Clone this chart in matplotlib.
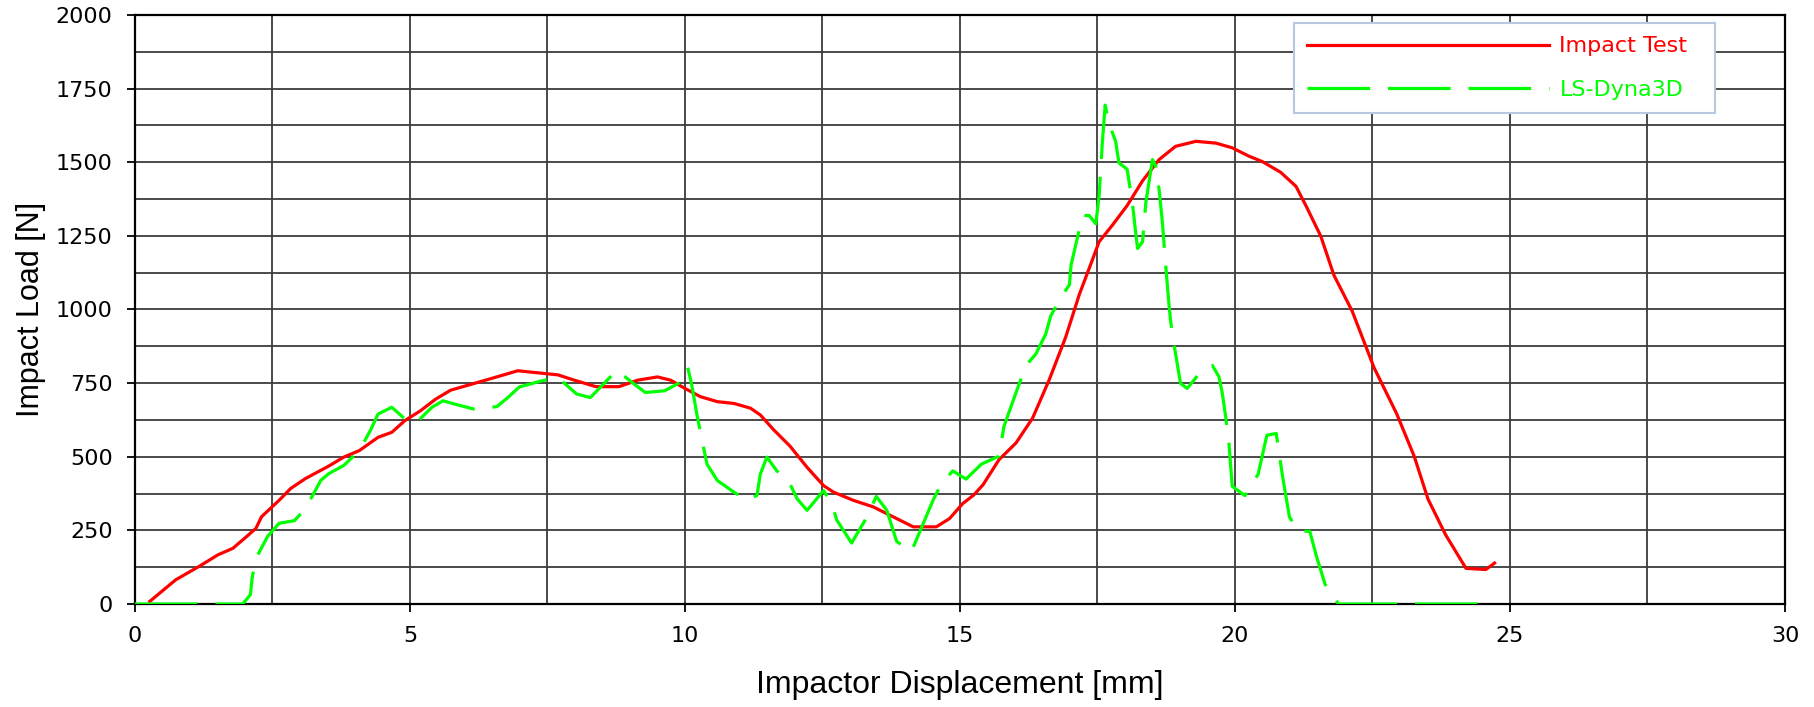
import matplotlib
matplotlib.use("Agg")
import matplotlib.pyplot as plt
from matplotlib.ticker import MultipleLocator

plt.rcParams['font.family'] = ['Liberation Sans', 'DejaVu Sans']

# Impact test (measured)
test_x = [0.27, 0.74, 1.16, 1.51, 1.78, 2.03, 2.2, 2.3, 2.62, 2.83, 3.1, 3.52, 3.8,
          4.08, 4.42, 4.67, 4.91, 5.19, 5.47, 5.74, 6.02, 6.3, 6.65, 6.96, 7.27, 7.69,
          7.97, 8.38, 8.8, 9.14, 9.5, 9.74, 9.98, 10.28, 10.59, 10.89, 11.19, 11.37,
          11.61, 11.91, 12.22, 12.52, 12.7, 13.06, 13.42, 13.72, 14.15, 14.57, 14.81,
          15.05, 15.25, 15.42, 15.71, 16.02, 16.32, 16.62, 16.92, 17.17, 17.35, 17.53,
          17.77, 18.04, 18.32, 18.62, 18.92, 19.29, 19.65, 19.95, 20.25, 20.5, 20.83,
          21.11, 21.31, 21.56, 21.8, 22.13, 22.53, 22.94, 23.26, 23.51, 23.83, 24.2,
          24.56, 24.72]
test_y = [9, 82, 127, 167, 189, 229, 257, 296, 352, 392, 426, 468, 499,
          521, 566, 583, 623, 656, 696, 726, 741, 756, 775, 792, 786, 778,
          761, 738, 738, 760, 771, 760, 734, 704, 687, 681, 665, 642,
          592, 536, 464, 402, 380, 352, 330, 302, 262, 262, 290,
          341, 370, 405, 490, 547, 631, 760, 905, 1051, 1140, 1230,
          1286, 1353, 1437, 1509, 1554, 1571, 1565, 1549, 1521, 1502, 1466,
          1418, 1345, 1249, 1116, 995, 802, 646, 501, 356, 235, 121,
          117, 139]

# LS-Dyna3D simulation
sim_x = [0.0, 1.06, 1.96, 2.1, 2.13, 2.2, 2.41, 2.62, 2.9, 3.1, 3.38, 3.52, 3.8, 4.08,
         4.28, 4.42, 4.67, 4.91, 5.12, 5.4, 5.6, 5.85, 6.16, 6.58, 6.78, 6.99, 7.4,
         7.69, 8.03, 8.28, 8.52, 8.76, 9.04, 9.28, 9.63, 9.91, 10.05, 10.12, 10.22,
         10.4, 10.59, 10.89, 11.13, 11.31, 11.37, 11.49, 11.67, 11.88, 12.04, 12.22,
         12.52, 12.67, 12.76, 13.03, 13.27, 13.48, 13.67, 13.85, 14.12, 14.51, 14.66,
         14.87, 15.11, 15.39, 15.71, 15.8, 15.96, 16.08, 16.2, 16.38, 16.56, 16.65,
         16.83, 16.99, 17.02, 17.11, 17.23, 17.35, 17.47, 17.53, 17.59, 17.64, 17.71,
         17.83, 17.89, 18.04, 18.14, 18.2, 18.23, 18.32, 18.38, 18.5, 18.56, 18.62,
         18.68, 18.71, 18.74, 18.8, 18.83, 18.89, 19.01, 19.13, 19.35, 19.59, 19.71,
         19.77, 19.83, 19.89, 19.95, 20.18, 20.42, 20.58, 20.75, 20.87, 20.99, 21.15,
         21.36, 21.48, 21.64, 21.88, 24.72]
sim_y = [0, 0, 0, 32, 88, 155, 229, 274, 283, 324, 420, 442, 471, 521,
         589, 645, 668, 628, 617, 668, 690, 677, 662, 670, 701, 737, 758,
         769, 713, 701, 747, 794, 752, 718, 724, 752, 803, 747, 640,
         475, 419, 380, 352, 369, 441, 499, 452, 419, 357, 318,
         385, 341, 285, 207, 283, 365, 318, 212, 179, 352, 408,
         452, 424, 475, 502, 603, 687, 749, 810, 849, 917, 978,
         1039, 1084, 1151, 1224, 1319, 1319, 1291, 1386, 1571, 1694, 1632,
         1571, 1498, 1476, 1353, 1252, 1207, 1230, 1364, 1509, 1487, 1408,
         1297, 1224, 1151, 1017, 961, 883, 749, 732, 782, 810, 771,
         715, 637, 547, 400, 368, 440, 573, 579, 428, 296, 247,
         247, 163, 66, 0, 0]

fig = plt.figure(figsize=(18.14, 7.07), dpi=100)
ax = fig.add_axes([0.0744, 0.1457, 0.9096, 0.8331])

# trailing spaces give the legend box the wider right margin of the original
ax.plot(test_x, test_y, color='#ff0000', lw=2.3, label='Impact Test  ', zorder=3)
ax.plot(sim_x, sim_y, color='#00ff00', lw=2.3, dashes=(19.6, 5.6),
        label='LS-Dyna3D', zorder=3)

ax.set_xlim(0, 30)
ax.set_ylim(0, 2000)
ax.xaxis.set_major_locator(MultipleLocator(5))
ax.xaxis.set_minor_locator(MultipleLocator(2.5))
ax.yaxis.set_major_locator(MultipleLocator(250))
ax.yaxis.set_minor_locator(MultipleLocator(125))
ax.grid(which='both', color='#3c3c3c', lw=1.3)
ax.set_axisbelow(True)
ax.tick_params(which='major', direction='out', length=6, width=1.3,
               labelsize=16, pad=10)
ax.tick_params(which='minor', length=0)
for lab in ax.get_xticklabels() + ax.get_yticklabels():
    lab.set_family('DejaVu Sans')
for s in ax.spines.values():
    s.set_linewidth(1.6)

ax.set_xlabel('Impactor Displacement [mm]', fontsize=23, labelpad=17)
ax.set_ylabel('Impact Load [N]', fontsize=22)
ax.yaxis.set_label_coords(-0.054, 0.5)

leg = ax.legend(loc='upper right', bbox_to_anchor=(0.9576, 0.9864),
                borderaxespad=0, handlelength=10.9, handletextpad=0.45,
                labelspacing=1.05, borderpad=0.6, fancybox=False,
                framealpha=1, prop={'family': 'DejaVu Sans', 'size': 16})
leg.get_frame().set_edgecolor('#b8c8e0')
leg.get_frame().set_linewidth(1.5)
for line, txt in zip(leg.get_lines(), leg.get_texts()):
    txt.set_color(line.get_color())

fig.savefig('out.png', dpi=100)
